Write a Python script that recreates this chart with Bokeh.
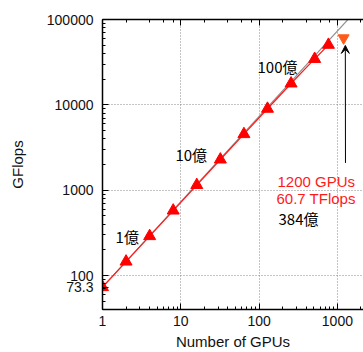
from bokeh.plotting import figure
from bokeh.models import (LogAxis, Range1d, Label, Arrow, VeeHead, ColumnDataSource,
                          PrintfTickFormatter, FixedTicker, LogTicker)
from bokeh.embed import file_html
from bokeh.resources import INLINE

# Data
gpus = [1, 2, 4, 8, 16, 32, 64, 128, 256, 512, 768]
gflops = [73.3, 146, 290, 578, 1150, 2290, 4540, 9000, 17800, 34500, 50500]
ideal_gpus = [1, 3000]
ideal_gflops = [73.3, 73.3 * 3000]
peak_gpus = [1200]
peak_gflops = [60700]
y_ticks = [73.3, 100, 1000, 10000, 100000]
y_grid_ticks = [100, 1000, 10000, 100000]

FONT = "Liberation Sans"
JFONT = "Noto Sans CJK JP"

p = figure(width=363, height=352, x_axis_type="log", y_axis_type="log",
           x_range=Range1d(1, 2154), y_range=Range1d(40.1, 100000),
           output_backend="svg", toolbar_location=None,
           min_border_left=102, min_border_right=0, min_border_top=19, min_border_bottom=42)
p.outline_line_color = None
p.background_fill_color = "white"
p.border_fill_color = "white"

for ax in p.axis:
    ax.formatter = PrintfTickFormatter(format="%d")
    ax.major_label_text_font = FONT
    ax.major_label_text_font_size = "14px"
    ax.major_label_text_color = "#111111"
    ax.axis_label_text_font = FONT
    ax.axis_label_text_font_size = "15px"
    ax.axis_label_text_font_style = "normal"
    ax.axis_label_text_color = "#111111"
    ax.axis_line_width = 1.5
    ax.axis_line_color = "black"
    ax.major_tick_in = 6
    ax.major_tick_out = 0
    ax.minor_tick_in = 3
    ax.minor_tick_out = 0
    ax.major_tick_line_color = "black"
    ax.minor_tick_line_color = "black"

minor = [k * 10 ** d for d in range(1, 5) for k in range(2, 10) if k * 10 ** d > 40]
p.yaxis.ticker = FixedTicker(ticks=y_ticks, minor_ticks=minor)
p.yaxis.formatter = PrintfTickFormatter(format="%d")
p.yaxis.major_label_overrides = {73.3: "73.3"}
p.ygrid.ticker = FixedTicker(ticks=y_grid_ticks)

p.xaxis.axis_label = "Number of GPUs"
p.yaxis.axis_label = "GFlops"
p.xaxis.major_label_standoff = 6
p.xaxis.axis_label_standoff = 4
p.yaxis.major_label_standoff = 9
p.yaxis.axis_label_standoff = 18

top = LogAxis(major_label_text_font_size="1px", major_label_text_alpha=0,
              major_label_standoff=0,
              axis_line_width=1.5, major_tick_in=6, major_tick_out=0,
              minor_tick_in=3, minor_tick_out=0)
p.add_layout(top, "above")

for g in (p.xgrid, p.ygrid):
    g.grid_line_color = "#888888"
    g.grid_line_dash = "1 2"
    g.grid_line_width = 1

# ideal line
p.line(ideal_gpus, ideal_gflops, line_color="#909090", line_width=1.2)
# measured
src = ColumnDataSource(dict(x=gpus, y=gflops))
p.line("x", "y", source=src, line_color="#ff1a1a", line_width=1.2)
p.scatter("x", "y", source=src, marker="triangle", size=12, fill_color="#ff0000",
          line_color="#ff0000")
p.scatter(peak_gpus, peak_gflops, marker="inverted_triangle", size=11,
          fill_color="#ff5a1a", line_color="#ff5a1a")

# arrow
p.add_layout(Arrow(end=VeeHead(size=8, fill_color="black", line_color="black", line_width=1),
                   x_start=1268, y_start=2090, x_end=1262, y_end=49700,
                   line_color="black", line_width=1))

labels = [
    ("100億", 95.4, 28250, "black", JFONT),
    ("10億", 8.55, 2588, "black", JFONT),
    ("1億", 1.47, 285, "black", JFONT),
    ("1200 GPUs", 171.8, 1250, "#ff1a1a", FONT),
    ("60.7 TFlops", 166.8, 792, "#ff1a1a", FONT),
    ("384億", 177, 462, "black", JFONT),
]
for t, x, y, c, f in labels:
    p.add_layout(Label(x=x, y=y, text=t, text_color=c, text_font=f,
                       text_font_size="15px", text_baseline="middle", text_align="left"))

open("out.html", "w").write(file_html(p, INLINE))
